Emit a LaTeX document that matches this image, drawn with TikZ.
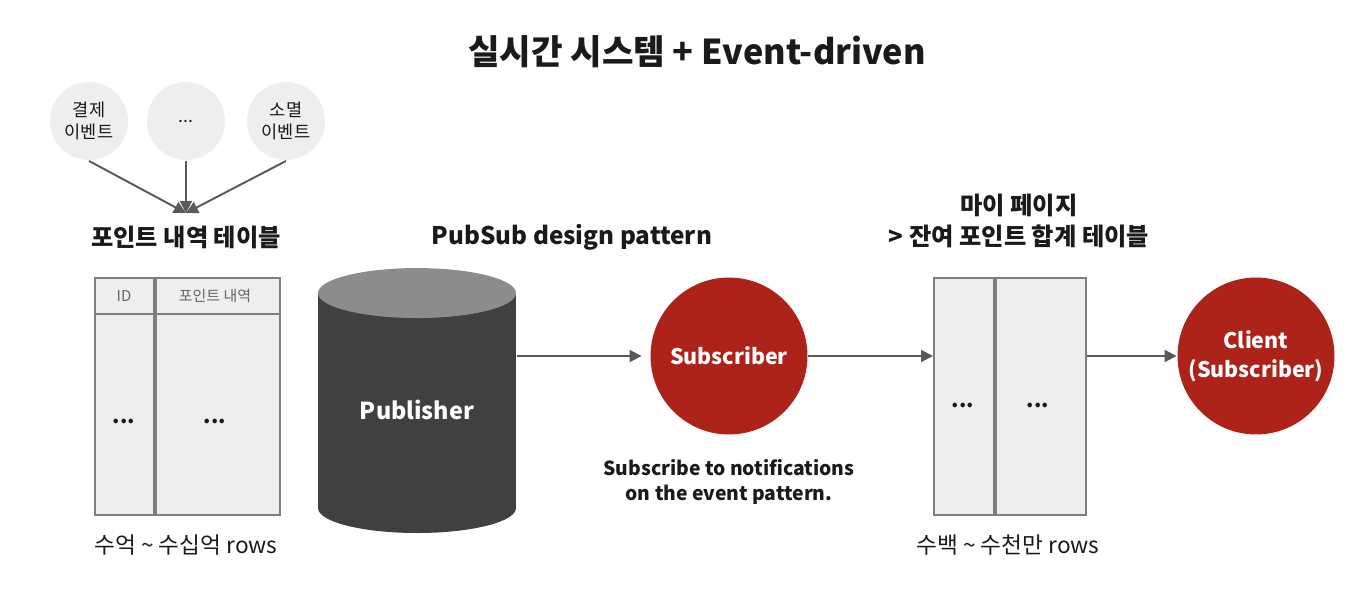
\documentclass[tikz,border=0pt]{standalone}
\usepackage{fontspec}
\setmainfont{Noto Sans CJK KR}
\usetikzlibrary{arrows.meta, positioning, shapes.geometric}
\definecolor{cred}{HTML}{AE2319}
\definecolor{cdark}{HTML}{404040}
\definecolor{ctop}{HTML}{8C8C8C}
\definecolor{clight}{HTML}{EEEEEE}
\definecolor{cline}{HTML}{7F7F7F}
\definecolor{carrow}{HTML}{595959}
\definecolor{ctext}{HTML}{1A1A1A}
\tikzset{
  every picture/.style={line width=1.1pt},
  evt/.style={circle, fill=clight, minimum size=1.56cm, inner sep=0pt, align=center, text=ctext, font=\fontsize{10}{12.5}\selectfont},
  sub/.style={circle, fill=cred, minimum size=3.14cm, inner sep=0pt, align=center, text=white, font=\bfseries\fontsize{12.2}{16.4}\selectfont},
  col/.style={draw=cline, fill=clight, minimum height=4.74cm, inner sep=0pt, anchor=north west},
  arrow/.style={-{Triangle[length=2.4mm, width=2.4mm]}, draw=carrow, line width=1.1pt},
  title/.style={font=\bfseries\fontsize{13.8}{17.6}\selectfont, align=center, text=ctext},
  note/.style={font=\fontsize{12.9}{15}\selectfont, text=ctext},
  hdr/.style={font=\fontsize{8.5}{10}\selectfont, text=black!60},
  dots/.style={font=\bfseries\fontsize{12}{15}\selectfont, text=ctext},
}
\begin{document}
\begin{tikzpicture}[x=0.02cm, y=-0.02cm]
  \useasboundingbox (0,0) rectangle (1372,610);
  \node[font=\bfseries\fontsize{19.5}{22}\selectfont, text=ctext] (head) at (697,52) {실시간 시스템 + Event-driven};
  % events
  \node[evt] (pay) at (89,121) {결제\\이벤트};
  \node[evt] (etc) at (186,121) {...};
  \node[evt] (exp) at (286,121) {소멸\\이벤트};
  \coordinate (merge) at (186,213);
  \foreach \e in {pay, etc, exp} \draw[arrow] (\e.south) -- (merge);
  % point history table
  \node[title] (histtitle) at (186,237) {포인트 내역 테이블};
  \node[col, minimum width=1.18cm] (idcol) at (94,277) {};
  \node[col, minimum width=2.48cm] (ptcol) at (idcol.north east) {};
  \draw[draw=cline] ([yshift=-0.74cm]idcol.north west) -- ([yshift=-0.74cm]ptcol.north east);
  \node[hdr] (idhead) at (124,296) {ID};
  \node[hdr] (pthead) at (215,296) {포인트 내역};
  \node[dots] (iddots) at (124,421) {...};
  \node[dots] (ptdots) at (215,421) {...};
  \node[note] (rows1) at (186,545) {수억 \textasciitilde{} 수십억 rows};
  % pubsub
  \node[title] (pstitle) at (572,237) {PubSub design pattern};
  \fill[cdark] (417,508) ellipse [x radius=1.98cm, y radius=0.5cm];
  \node[fill=cdark, minimum width=3.96cm, minimum height=4.28cm, inner sep=0pt] (pub) at (417,401) {};
  \fill[ctop] (pub.north) ellipse [x radius=1.98cm, y radius=0.5cm];
  \node[text=white, font=\bfseries\fontsize{13.3}{15}\selectfont] (publabel) at (417,410) {Publisher};
  \node[sub] (subs) at (729,356) {Subscriber};
  \node[title, font=\bfseries\fontsize{11}{14.7}\selectfont] (subnote) at (729,482) {Subscribe to notifications\\on the event pattern.};
  % my page table
  \node[title] (sumtitle) at (1019,221) {마이 페이지\\> 잔여 포인트 합계 테이블};
  \node[col, minimum width=1.2cm] (lcol) at (933,277) {};
  \node[col, minimum width=1.8cm] (rcol) at (lcol.north east) {};
  \node[dots] (ldots) at (963,405) {...};
  \node[dots] (rdots) at (1038,405) {...};
  \node[note] (rows2) at (1008,545) {수백 \textasciitilde{} 수천만 rows};
  \node[sub] (client) at (1256,356) {Client\\(Subscriber)};
  % flow
  \draw[arrow, shorten >=1.6mm] (pub.east |- subs.west) -- (subs.west);
  \draw[arrow] (subs.east) -- (lcol.west |- subs.east);
  \draw[arrow] (rcol.east |- client.west) -- (client.west);
\end{tikzpicture}
\end{document}
